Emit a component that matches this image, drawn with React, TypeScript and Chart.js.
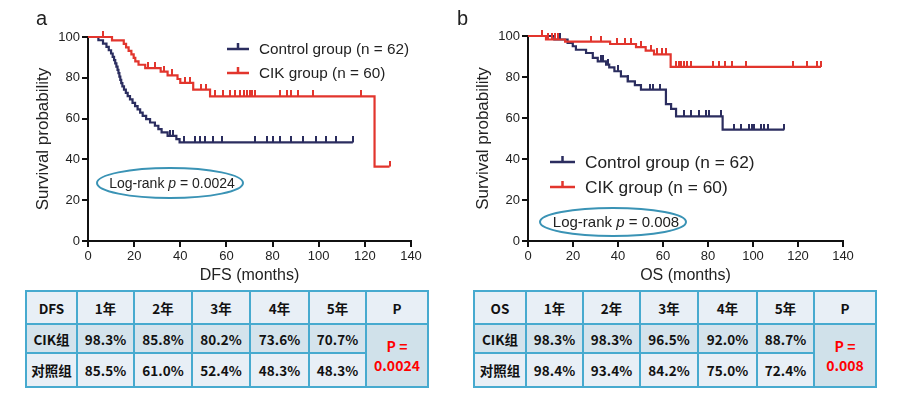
import React, { useEffect, useRef } from 'react';
import { Chart, registerables } from 'chart.js';

Chart.register(...registerables);

const FONT = '"Liberation Sans", Arial, Helvetica, sans-serif';
const CJK = '"Noto Sans CJK SC", "Noto Sans", sans-serif';
const NAVY = '#2b2d5f';
const RED = '#e2352d';

// ---------- DFS (panel a) ----------
const dfsControlTimes = [0, 4.5, 6.5, 8, 9, 10, 10.7, 11.3, 11.8, 12.3, 12.8, 13.2, 13.6, 14, 14.4, 14.9, 15.6, 16.4, 17.2, 18.2, 19.3, 20.4, 21.5, 22.6, 23.7, 25.2, 26.9, 29, 30.5, 31.9, 34.5, 38.3, 39.7, 114.8];
const dfsControlSurv = [100, 98.4, 96.8, 95.2, 93.5, 91.9, 90.3, 88.7, 87.1, 85.5, 83.9, 82.3, 80.6, 79.0, 77.4, 75.8, 74.2, 72.6, 71.0, 69.4, 67.7, 66.1, 64.5, 62.9, 61.3, 59.7, 58.1, 56.5, 54.8, 53.2, 51.5, 49.9, 48.3, 48.3];
const dfsControlCensor = [35.5, 36.8, 41.4, 46.4, 48.6, 50.8, 54.3, 58, 72.4, 77.4, 80.3, 83.2, 88.2, 93.2, 99, 103.3, 107.6, 114.8];

const dfsCikTimes = [0, 10.4, 15.5, 16.5, 17.6, 18.8, 19.8, 20.5, 21.9, 24.8, 31.5, 34.5, 38.8, 40, 45.6, 52.9, 124.2, 130.7];
const dfsCikSurv = [100, 98.3, 96.6, 94.9, 93.2, 91.5, 89.8, 88.1, 86.4, 84.7, 83.0, 81.2, 79.4, 77.5, 74.2, 70.9, 36.5, 36.5];
const dfsCikCensor = [6.6, 26, 29, 33, 36.5, 42, 44.3, 49, 51, 55.1, 58.7, 61.6, 63.7, 65.9, 67.5, 68.8, 70, 71.2, 72.3, 83.2, 86.1, 88.2, 91.1, 97.5, 118.5, 130.7];

// ---------- OS (panel b) ----------
const osControlTimes = [0, 11.7, 17.6, 19.9, 21.3, 25.8, 28.8, 31, 34.7, 36.1, 38.4, 41.3, 44.3, 47.5, 50.2, 61.3, 63.6, 65.8, 86.5, 113.9];
const osControlSurv = [100, 98.3, 96.6, 95, 93.3, 91.7, 89.3, 87.6, 86, 84.7, 82.8, 80.3, 77.9, 76, 73.8, 66.8, 64.5, 60.8, 54.3, 54.3];
const osControlCensor = [14, 32.5, 33.5, 35.5, 40, 44.5, 54, 55.5, 58.5, 69.5, 72.4, 76.1, 79.1, 80.6, 85.8, 91.7, 94.7, 98.4, 99.5, 100.6, 103.6, 105, 106.5, 113.9];

const osCikTimes = [0, 8, 16.5, 36.5, 48, 52.3, 56, 63.4, 130.2];
const osCikSurv = [100, 98.3, 97.3, 96.1, 94.6, 92.9, 91, 84.9, 84.9];
const osCikCensor = [6.4, 9, 10.5, 12, 13.3, 27.9, 32.3, 39.7, 43, 45.6, 50, 54.5, 57.5, 59.5, 61.5, 65.8, 67, 68.2, 69.4, 70.6, 72.4, 82.4, 85, 87.6, 90.5, 96.9, 117.6, 123.8, 128.3, 130.2];

const legendLabels = ['Control group (n = 62)', 'CIK group (n = 60)'];
const dfsP = '0.0024';
const osP = '0.008';

// ---------- tables ----------
const tableYears = ['1年', '2年', '3年', '4年', '5年'];
const rowLabels = ['CIK组', '对照组'];
const dfsCikRates = ['98.3%', '85.8%', '80.2%', '73.6%', '70.7%'];
const dfsCtrlRates = ['85.5%', '61.0%', '52.4%', '48.3%', '48.3%'];
const osCikRates = ['98.3%', '98.3%', '96.5%', '92.0%', '88.7%'];
const osCtrlRates = ['98.4%', '93.4%', '84.2%', '75.0%', '72.4%'];

function survAt(times: number[], surv: number[], t: number) {
  let v = surv[0];
  for (let i = 0; i < times.length; i++) if (times[i] <= t) v = surv[i];
  return v;
}

function makeTick(color: string) {
  const c = document.createElement('canvas');
  c.width = 2;
  c.height = 12;
  const g = c.getContext('2d')!;
  g.fillStyle = color;
  g.fillRect(0, 0, 2, 6);
  return c;
}

const overlayPlugin = {
  id: 'kmOverlay',
  afterDatasetsDraw(chart: any, _args: any, opts: any) {
    const ctx = chart.ctx as CanvasRenderingContext2D;
    const lg = opts.legend;
    const lr = opts.logrank;
    if (!lg) return;
    ctx.save();
    lg.items.forEach((it: any, i: number) => {
      const y = lg.y + i * lg.gap;
      ctx.strokeStyle = it.color;
      ctx.lineWidth = 2.5;
      ctx.beginPath();
      ctx.moveTo(lg.x, y);
      ctx.lineTo(lg.x + lg.len, y);
      ctx.moveTo(lg.x + lg.len / 2, y);
      ctx.lineTo(lg.x + lg.len / 2, y - 6);
      ctx.stroke();
      ctx.fillStyle = '#222';
      ctx.font = `${lg.size}px ${FONT}`;
      ctx.textBaseline = 'middle';
      ctx.textAlign = 'left';
      ctx.fillText(it.label, lg.x + lg.len + lg.textGap, y + 1);
    });
    // log-rank ellipse
    ctx.beginPath();
    ctx.ellipse(lr.cx, lr.cy, lr.rx, lr.ry, 0, 0, Math.PI * 2);
    ctx.strokeStyle = '#3a93b5';
    ctx.lineWidth = 2;
    ctx.stroke();
    const normal = `${lr.size}px ${FONT}`;
    const ital = `italic ${lr.size}px ${FONT}`;
    const parts: [string, string][] = [['Log-rank ', normal], ['p', ital], [' = ' + lr.p, normal]];
    let total = 0;
    parts.forEach(([t, f]) => { ctx.font = f; total += ctx.measureText(t).width; });
    let x = lr.tx - total / 2;
    ctx.fillStyle = '#222';
    ctx.textBaseline = 'middle';
    ctx.textAlign = 'left';
    parts.forEach(([t, f]) => {
      ctx.font = f;
      ctx.fillText(t, x, lr.cy + 1);
      x += ctx.measureText(t).width;
    });
    ctx.restore();
  },
};

type PanelProps = {
  width: number;
  height: number;
  pad: { left: number; right: number; top: number; bottom: number };
  xTitle: string;
  ctrl: { t: number[]; s: number[]; c: number[] };
  cik: { t: number[]; s: number[]; c: number[] };
  legend: any;
  logrank: any;
};

function KMPanel(props: PanelProps) {
  const ref = useRef<HTMLCanvasElement>(null);
  useEffect(() => {
    const { ctrl, cik } = props;
    const curve = (g: { t: number[]; s: number[] }) => g.t.map((t, i) => ({ x: t, y: g.s[i] }));
    const cens = (g: { t: number[]; s: number[]; c: number[] }) => g.c.map((t) => ({ x: t, y: survAt(g.t, g.s, t) }));
    const axisColor = '#111';
    const tickFont = { family: FONT, size: 13 };
    const chart = new Chart(ref.current!, {
      type: 'scatter',
      data: {
        datasets: [
          { label: 'CIK', data: curve(cik), showLine: true, stepped: 'before', borderColor: RED, borderWidth: 2.2, pointRadius: 0, clip: false as any, order: 1 } as any,
          { label: 'CIKc', data: cens(cik), showLine: false, pointStyle: makeTick(RED), pointRadius: 3, clip: false as any, order: 0 } as any,
          { label: 'Ctrl', data: curve(ctrl), showLine: true, stepped: 'before', borderColor: NAVY, borderWidth: 2.2, pointRadius: 0, clip: false as any, order: 3 } as any,
          { label: 'Ctrlc', data: cens(ctrl), showLine: false, pointStyle: makeTick(NAVY), pointRadius: 3, clip: false as any, order: 2 } as any,
        ],
      },
      options: {
        responsive: false,
        animation: false,
        events: [],
        layout: { padding: props.pad },
        plugins: {
          legend: { display: false },
          tooltip: { enabled: false },
          kmOverlay: { legend: props.legend, logrank: props.logrank },
        } as any,
        scales: {
          x: {
            type: 'linear',
            min: 0,
            max: 140,
            ticks: { stepSize: 20, color: '#222', font: tickFont, padding: 2, maxRotation: 0, autoSkip: false },
            grid: { drawOnChartArea: false, drawTicks: true, tickLength: 6, color: axisColor, lineWidth: 2 },
            border: { display: true, color: axisColor, width: 2 },
            title: { display: true, text: props.xTitle, color: '#222', font: { family: FONT, size: 16 }, padding: { top: 0, bottom: 0 } },
            afterFit: (s: any) => { s.height = props.height - props.pad.bottom - 241; },
          },
          y: {
            type: 'linear',
            min: 0,
            max: 100,
            ticks: { stepSize: 20, color: '#222', font: tickFont, padding: 2 },
            grid: { drawOnChartArea: false, drawTicks: true, tickLength: 6, color: axisColor, lineWidth: 2 },
            border: { display: true, color: axisColor, width: 2 },
            title: { display: true, text: 'Survival probability', color: '#222', font: { family: FONT, size: 17 }, padding: { top: 3, bottom: 0 } },
            afterFit: (s: any) => { s.width = 88 - props.pad.left; },
          },
        },
      },
      plugins: [overlayPlugin as any],
    });
    return () => chart.destroy();
  }, []);
  return <canvas ref={ref} width={props.width} height={props.height} style={{ display: 'block', width: props.width, height: props.height }} />;
}

const borderCol = '#47aacf';
const cellBase: React.CSSProperties = {
  border: `2px solid ${borderCol}`,
  textAlign: 'center',
  verticalAlign: 'middle',
  padding: 0,
  fontFamily: CJK,
  fontWeight: 700,
  fontSize: 13.5,
  color: '#111',
};

function RateTable(props: { head: string; cik: string[]; ctrl: string[]; p: string; widths: number[] }) {
  const total = props.widths.reduce((a, b) => a + b, 0);
  const light = '#e8eff6';
  const mid = '#d4e3ec';
  return (
    <table style={{ borderCollapse: 'collapse', tableLayout: 'fixed', width: total }}>
      <colgroup>
        {props.widths.map((w, i) => <col key={i} style={{ width: w }} />)}
      </colgroup>
      <tbody>
        <tr style={{ height: 33 }}>
          <td style={{ ...cellBase, background: light }}>{props.head}</td>
          {tableYears.map((y) => <td key={y} style={{ ...cellBase, background: light }}>{y}</td>)}
          <td style={{ ...cellBase, background: light }}>P</td>
        </tr>
        <tr style={{ height: 29 }}>
          <td style={{ ...cellBase, background: mid }}>{rowLabels[0]}</td>
          {props.cik.map((v, i) => <td key={i} style={{ ...cellBase, background: mid }}>{v}</td>)}
          <td rowSpan={2} style={{ ...cellBase, background: '#d0e1ea', color: '#ff0000', fontSize: 14, lineHeight: '19px' }}>
            P =<br />{props.p}
          </td>
        </tr>
        <tr style={{ height: 34 }}>
          <td style={{ ...cellBase, background: light }}>{rowLabels[1]}</td>
          {props.ctrl.map((v, i) => <td key={i} style={{ ...cellBase, background: light }}>{v}</td>)}
        </tr>
      </tbody>
    </table>
  );
}

export default function App() {
  const letter: React.CSSProperties = { position: 'absolute', fontFamily: FONT, fontSize: 20, color: '#222', lineHeight: '20px' };
  return (
    <div style={{ position: 'absolute', left: 0, top: 0, width: 903, height: 402, background: '#fff', overflow: 'hidden' }}>
      <div style={{ position: 'absolute', left: 0, top: 0 }}>
        <KMPanel
          width={440}
          height={285}
          pad={{ left: 30, right: 29, top: 37, bottom: 0 }}
          xTitle="DFS (months)"
          ctrl={{ t: dfsControlTimes, s: dfsControlSurv, c: dfsControlCensor }}
          cik={{ t: dfsCikTimes, s: dfsCikSurv, c: dfsCikCensor }}
          legend={{ x: 227, y: 49, gap: 24, len: 22, textGap: 10, size: 15.3, items: [{ label: legendLabels[0], color: NAVY }, { label: legendLabels[1], color: RED }] }}
          logrank={{ cx: 170, cy: 183, rx: 73, ry: 15, tx: 172, size: 14, p: dfsP }}
        />
      </div>
      <div style={{ position: 'absolute', left: 440, top: 0 }}>
        <KMPanel
          width={463}
          height={285}
          pad={{ left: 30, right: 60, top: 36, bottom: 0 }}
          xTitle="OS (months)"
          ctrl={{ t: osControlTimes, s: osControlSurv, c: osControlCensor }}
          cik={{ t: osCikTimes, s: osCikSurv, c: osCikCensor }}
          legend={{ x: 110, y: 162, gap: 25, len: 25, textGap: 10, size: 17.3, items: [{ label: legendLabels[0], color: NAVY }, { label: legendLabels[1], color: RED }] }}
          logrank={{ cx: 173, cy: 222, rx: 73, ry: 14, tx: 176, size: 15, p: osP }}
        />
      </div>
      <div style={{ ...letter, left: 36, top: 8 }}>a</div>
      <div style={{ ...letter, left: 457, top: 8 }}>b</div>
      <div style={{ position: 'absolute', left: 25, top: 290 }}>
        <RateTable head="DFS" cik={dfsCikRates} ctrl={dfsCtrlRates} p={dfsP} widths={[51, 57, 58, 58, 59, 57, 62]} />
      </div>
      <div style={{ position: 'absolute', left: 473, top: 290 }}>
        <RateTable head="OS" cik={osCikRates} ctrl={osCtrlRates} p={osP} widths={[52, 57, 57, 58, 59, 57, 62]} />
      </div>
    </div>
  );
}
